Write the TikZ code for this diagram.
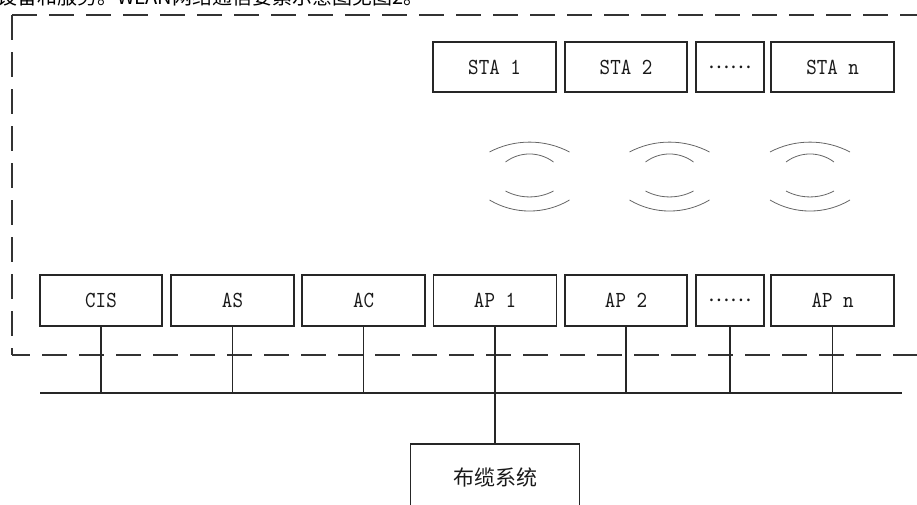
\documentclass[tikz,border=0pt]{standalone}
\usepackage{fontspec}
\newfontfamily\cjk{Noto Sans CJK SC}
\newfontfamily\labfont{lmmono10-regular}[Extension=.otf, FakeStretch=0.87]
\begin{document}
\begin{tikzpicture}[x=1pt,y=-1pt,
  box/.style={draw=black!85, line width=1.1pt, inner sep=0pt, outer sep=0pt, font=\labfont\fontsize{23}{23}\selectfont, text=black!90},
  wire/.style={draw=black!85, line width=1.1pt},
  frame/.style={draw=black!80, line width=1.2pt, dash pattern=on 25pt off 12pt},
  wave/.style={draw=black!60, line width=0.8pt}]
\useasboundingbox (0,0) rectangle (917,504);
\begin{scope}
\clip (0,0) rectangle (917,504);
% cut-off caption line at the top
\node[anchor=base west, inner sep=0pt, font=\cjk\fontsize{20}{20}\selectfont] (cap) at (-3,4.5) {设备和服务。WLAN网络通信要素示意图见图2。};
% dashed frame
\draw[frame] (12,15) -- (935,15);
\draw[frame] (12,15) -- (12,355);
\draw[frame, dash phase=7pt] (12,355) -- (935,355);
% STA row
\node[box, minimum width=123pt, minimum height=50pt] (sta1) at (494.5,67) {STA 1};
\node[box, minimum width=122pt, minimum height=50pt] (sta2) at (626,67) {STA 2};
\node[box, minimum width=68pt, minimum height=50pt, font=\cjk\fontsize{20}{20}\selectfont] (stadots) at (730,67) {……};
\node[box, minimum width=123pt, minimum height=50pt] (stan) at (832.5,67) {STA n};
% radio waves
\foreach \c in {529.5,669.5,810} {
  \draw[wave] (\c-40,152) .. controls (\c-15.1,138.8) and (\c+15.1,138.8) .. (\c+40,152);
  \draw[wave] (\c-24,162) .. controls (\c-9.8,151.3) and (\c+9.8,151.3) .. (\c+24,162);
  \draw[wave] (\c-24,191) .. controls (\c-9.1,198.9) and (\c+9.1,198.9) .. (\c+24,191);
  \draw[wave] (\c-40,200) .. controls (\c-15.3,214.7) and (\c+15.3,214.7) .. (\c+40,200);
}
% bottom row
\node[box, minimum width=122pt, minimum height=51pt] (cis) at (101,300.5) {CIS};
\node[box, minimum width=123pt, minimum height=51pt] (as) at (232.5,300.5) {AS};
\node[box, minimum width=123pt, minimum height=51pt] (ac) at (363.5,300.5) {AC};
\node[box, minimum width=123pt, minimum height=51pt] (ap1) at (495,300.5) {AP 1};
\node[box, minimum width=122pt, minimum height=51pt] (ap2) at (626,300.5) {AP 2};
\node[box, minimum width=68pt, minimum height=51pt, font=\cjk\fontsize{20}{20}\selectfont] (apdots) at (730,300.5) {……};
\node[box, minimum width=123pt, minimum height=51pt] (apn) at (832.5,300.5) {AP n};
% cabling system
\node[box, minimum width=169pt, minimum height=66pt, font=\cjk\fontsize{21}{21}\selectfont] (cable) at (495,477) {布缆系统};
% bus
\coordinate (busL) at (40,393);
\coordinate (busR) at (902,393);
\draw[wire] (busL) -- (busR);
\foreach \n in {cis,as,ac,ap2,apdots,apn} \draw[wire] (\n.south) -- (\n.south |- busL);
\draw[wire] (ap1.south) -- (cable.north);
\end{scope}
\end{tikzpicture}
\end{document}
